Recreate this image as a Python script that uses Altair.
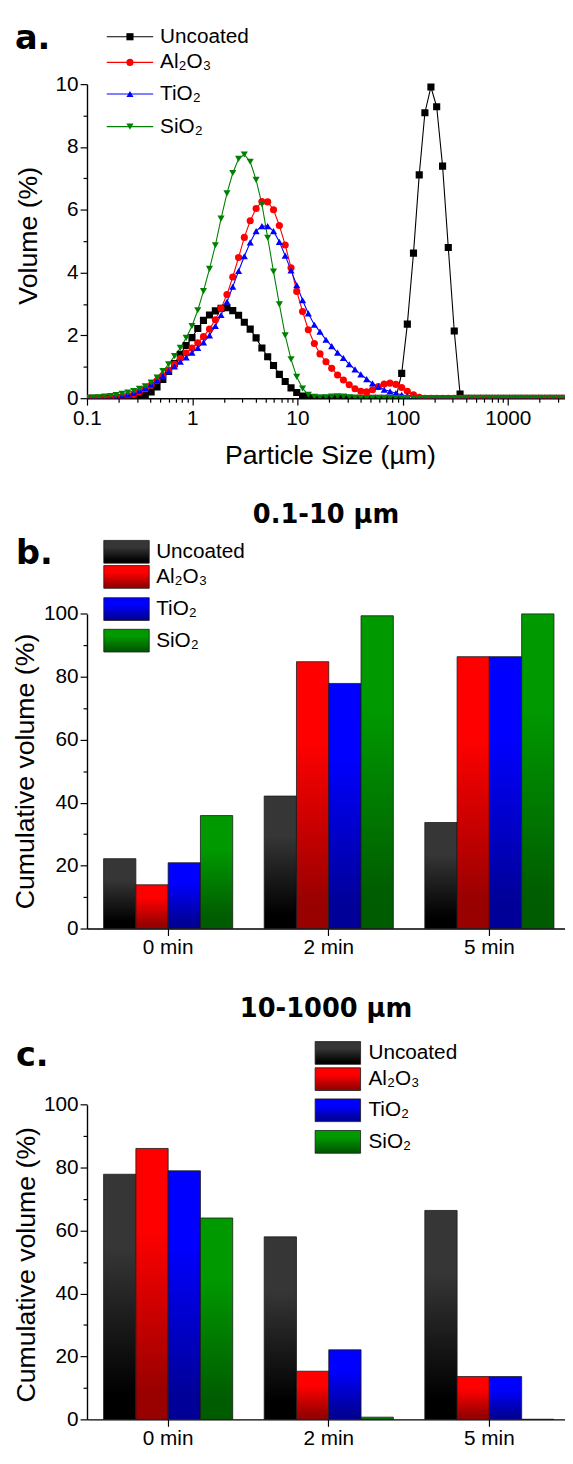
import altair as alt
import pandas as pd

# ---------------- data ----------------
SIZES = [0.100, 0.114, 0.129, 0.147, 0.167, 0.189, 0.215, 0.244, 0.278, 0.315,
         0.358, 0.407, 0.463, 0.526, 0.597, 0.679, 0.771, 0.876, 0.995, 1.13,
         1.28, 1.46, 1.66, 1.88, 2.14, 2.43, 2.76, 3.13, 3.56, 4.05,
         4.60, 5.22, 5.93, 6.74, 7.66, 8.70, 9.86, 11.2, 12.7, 14.5,
         16.4, 18.7, 21.2, 24.1, 27.4, 31.1, 35.3, 40.1, 45.6, 51.8,
         58.9, 66.9, 76.0, 86.4, 98.1, 111, 127, 144, 163, 186,
         211, 240, 272, 310, 352, 400, 454, 516, 586, 666,
         756, 859, 976, 1110, 1260, 1430, 1630, 1850, 2100, 2390,
         2710, 3080, 3500]

VOL_UNCOATED = [0, 0, 0, 0, 0, 0, 0, 0, 0, 0.03,
                0.10, 0.20, 0.36, 0.60, 0.85, 1.10, 1.40, 1.68, 1.93, 2.22,
                2.48, 2.65, 2.78, 2.86, 2.88, 2.79, 2.64, 2.42, 2.20, 1.92,
                1.60, 1.32, 1.04, 0.76, 0.53, 0.33, 0.18, 0.07, 0.02, 0,
                0, 0, 0, 0, 0, 0, 0, 0, 0, 0,
                0, 0, 0, 0, 0.79, 2.36, 4.62, 7.11, 9.09, 9.91,
                9.28, 7.39, 4.80, 2.14, 0.13, 0, 0, 0, 0, 0,
                0, 0, 0, 0, 0, 0, 0, 0, 0, 0,
                0, 0, 0]

VOL_AL2O3 = [0, 0, 0, 0, 0, 0.01, 0.03, 0.07, 0.12, 0.20,
             0.30, 0.42, 0.56, 0.72, 0.90, 1.08, 1.27, 1.44, 1.60, 1.76,
             1.96, 2.20, 2.50, 2.86, 3.30, 3.86, 4.48, 5.12, 5.65, 6.04,
             6.26, 6.25, 6.00, 5.50, 4.88, 4.15, 3.40, 2.76, 2.18, 1.74,
             1.41, 1.16, 0.95, 0.74, 0.58, 0.43, 0.30, 0.22, 0.20, 0.27,
             0.37, 0.45, 0.48, 0.44, 0.34, 0.22, 0.11, 0.03, 0, 0,
             0, 0, 0, 0, 0, 0, 0, 0, 0, 0,
             0, 0, 0, 0, 0, 0, 0, 0, 0, 0,
             0, 0, 0]

VOL_TIO2 = [0, 0, 0.01, 0.02, 0.03, 0.05, 0.08, 0.12, 0.17, 0.24,
            0.33, 0.44, 0.57, 0.71, 0.86, 1.01, 1.16, 1.30, 1.45, 1.60,
            1.78, 2.00, 2.30, 2.65, 3.07, 3.55, 4.05, 4.52, 4.96, 5.32,
            5.48, 5.48, 5.32, 4.98, 4.54, 4.07, 3.60, 3.12, 2.70, 2.34,
            2.12, 1.86, 1.66, 1.45, 1.28, 1.08, 0.92, 0.76, 0.61, 0.47,
            0.37, 0.27, 0.22, 0.16, 0.11, 0.07, 0.05, 0.03, 0.01, 0,
            0, 0, 0, 0, 0, 0, 0, 0, 0, 0,
            0, 0, 0, 0, 0, 0, 0, 0, 0, 0,
            0, 0, 0]

VOL_SIO2 = [0.01, 0.02, 0.03, 0.05, 0.07, 0.10, 0.14, 0.18, 0.23, 0.30,
            0.38, 0.50, 0.66, 0.86, 1.08, 1.34, 1.60, 1.92, 2.30, 2.80,
            3.41, 4.12, 4.87, 5.72, 6.52, 7.17, 7.62, 7.76, 7.53, 6.95,
            6.18, 5.11, 4.03, 2.99, 2.00, 1.24, 0.68, 0.31, 0.11, 0.04,
            0.02, 0.03, 0.05, 0.06, 0.05, 0.03, 0.01, 0, 0, 0,
            0, 0, 0, 0, 0, 0, 0, 0, 0, 0,
            0, 0, 0, 0, 0, 0, 0, 0, 0, 0,
            0, 0, 0, 0, 0, 0, 0, 0, 0, 0,
            0, 0, 0]

SERIES = ["Uncoated", "Al₂O₃", "TiO₂", "SiO₂"]
COLORS = ["#000000", "#ff0000", "#0000ff", "#008000"]
SHAPES = ["square", "circle", "triangle-up", "triangle-down"]
GRAD_TOP = ["#363636", "#ff0000", "#0000ff", "#009900"]
GRAD_BOT = ["#000000", "#990000", "#000099", "#005c00"]

TIMES = ["0 min", "2 min", "5 min"]
B_UNCOATED = [22.2, 42.1, 33.7]
B_AL2O3 = [13.9, 84.8, 86.4]
B_TIO2 = [20.9, 77.9, 86.4]
B_SIO2 = [35.9, 99.4, 100.0]
C_UNCOATED = [77.9, 58.0, 66.4]
C_AL2O3 = [86.1, 15.3, 13.6]
C_TIO2 = [79.0, 22.1, 13.6]
C_SIO2 = [64.0, 0.7, 0.0]

X_MAJOR = [0.1, 1, 10, 100, 1000]
X_MINOR = [0.2, 0.3, 0.4, 0.5, 0.6, 0.7, 0.8, 0.9,
           2, 3, 4, 5, 6, 7, 8, 9,
           20, 30, 40, 50, 60, 70, 80, 90,
           200, 300, 400, 500, 600, 700, 800, 900,
           2000, 3000]
YA_MAJOR = [0, 2, 4, 6, 8, 10]
YA_MINOR = [1, 3, 5, 7, 9]
YB_MAJOR = [0, 20, 40, 60, 80, 100]
YB_MINOR = [10, 30, 50, 70, 90]

# ---------------- layout constants ----------------
FONT = "Liberation Sans"
BOLD = "DejaVu Sans"
W = 484
HA, HB, HC = 386, 497, 457
GAP = 40
TICK_FS = 21
TITLE_FS = 27
LEG_FS = 21
TOP_ANCHOR = -20
BOTTOM_ANCHOR = HC + 40
SVG_H = 1448
PAD_BOTTOM = SVG_H - (HA + GAP + HB + GAP + BOTTOM_ANCHOR)

one = pd.DataFrame({"k": [0]})


def gradient(i):
    return alt.Gradient(
        gradient="linear", x1=0, x2=0, y1=0, y2=1,
        stops=[alt.GradientStop(offset=0, color=GRAD_TOP[i]),
               alt.GradientStop(offset=0.3, color=GRAD_TOP[i]),
               alt.GradientStop(offset=0.9, color=GRAD_BOT[i]),
               alt.GradientStop(offset=1, color=GRAD_BOT[i])])


def txt(text, x, y, size, font=FONT, weight="normal", align="left", baseline="middle"):
    return alt.Chart(one).mark_text(
        text=text, font=font, fontSize=size, fontWeight=weight,
        align=align, baseline=baseline, color="black"
    ).encode(x=alt.value(x), y=alt.value(y))


def anchor(x, y):
    # invisible layout anchor (fixes the outer bounds of the drawing)
    return alt.Chart(one).mark_rule(opacity=0).encode(
        x=alt.value(x), y=alt.value(y), y2=alt.value(y + 1))


# ---------------- panel a ----------------
rows = []
for name, vals in zip(SERIES, [VOL_UNCOATED, VOL_AL2O3, VOL_TIO2, VOL_SIO2]):
    for s, v in zip(SIZES, vals):
        rows.append({"size": s, "vol": v, "series": name})
dfa = pd.DataFrame(rows)

color_scale = alt.Scale(domain=SERIES, range=COLORS)
shape_scale = alt.Scale(domain=SERIES, range=SHAPES)
xs = alt.Scale(type="log", domain=[0.1, 3500], nice=False)
ys = alt.Scale(domain=[0, 10], range=[HA, 68], nice=False)

xa_axis = alt.Axis(values=X_MAJOR, orient="bottom",
                   labelExpr="datum.value < 1 ? '0.1' : format(datum.value, 'd')",
                   title="Particle Size (µm)", tickSize=7, labelPadding=3,
                   labelFlush=False, labelOverlap=False,
                   titleX=246, titleY=58, titleAlign="center", titleBaseline="middle")
ya_axis = alt.Axis(values=YA_MAJOR, orient="left", title="Volume (%)",
                   tickSize=7, labelPadding=2, titleX=-59, titleY=221,
                   titleAngle=270, titleAlign="center", titleBaseline="middle")
xa_minor = alt.Axis(values=X_MINOR, orient="bottom", labels=False, domain=False,
                    tickSize=4, title=None)
ya_minor = alt.Axis(values=YA_MINOR, orient="left", labels=False, domain=False,
                    tickSize=4, title=None)

lines = alt.Chart(dfa).mark_line(strokeWidth=1.1, clip=True).encode(
    x=alt.X("size:Q", scale=xs, axis=xa_axis),
    y=alt.Y("vol:Q", scale=ys, axis=ya_axis),
    color=alt.Color("series:N", scale=color_scale, legend=None),
)
points = alt.Chart(dfa).mark_point(filled=True, size=52, opacity=1, clip=True).encode(
    x=alt.X("size:Q", scale=xs, axis=None),
    y=alt.Y("vol:Q", scale=ys, axis=None),
    color=alt.Color("series:N", scale=color_scale, legend=None),
    shape=alt.Shape("series:N", scale=shape_scale, legend=None),
)
minor_a = alt.Chart(dfa).mark_point(opacity=0, clip=True).encode(
    x=alt.X("size:Q", scale=xs, axis=xa_minor),
    y=alt.Y("vol:Q", scale=ys, axis=ya_minor),
)

LEG_A_Y = [20, 46, 78, 111]
leg_a = []
for i, name in enumerate(SERIES):
    ry = LEG_A_Y[i]
    leg_a.append(alt.Chart(one).mark_rule(color=COLORS[i], strokeWidth=1.2).encode(
        x=alt.value(20), x2=alt.value(67), y=alt.value(ry)))
    leg_a.append(alt.Chart(one).mark_point(shape=SHAPES[i], filled=True, size=52,
                                           color=COLORS[i], opacity=1).encode(
        x=alt.value(43.5), y=alt.value(ry)))
    leg_a.append(txt(name, 74, ry, LEG_FS))

pa = alt.layer(
    lines, points, minor_a, *leg_a,
    txt("a.", -73, 32, 34, font=BOLD, weight="bold", baseline="alphabetic"),
    anchor(-80, 200), anchor(0, TOP_ANCHOR),
).resolve_axis(x="independent", y="independent").properties(width=W, height=HA)


# ---------------- panels b and c ----------------
def bar_panel(vals, H, title, label, label_y, title_y, leg_x, leg_text_x, leg_rows,
              ytitle_x, ytitle_y, extra=()):
    recs = []
    for name, vv in zip(SERIES, vals):
        for t, v in zip(TIMES, vv):
            recs.append({"time": t, "series": name, "val": v})
    df = pd.DataFrame(recs)
    bx = alt.Scale(domain=TIMES, paddingInner=0.196, paddingOuter=0.086, align=0.6)
    off = alt.Scale(domain=SERIES, paddingInner=0, paddingOuter=0)
    by = alt.Scale(domain=[0, 100], range=[H, H - 318.6], nice=False)
    x_axis = alt.Axis(title=None, orient="bottom", labelAngle=0, tickSize=7,
                      labelPadding=1, bandPosition=0.5)
    y_axis = alt.Axis(values=YB_MAJOR, orient="left", title="Cumulative volume (%)",
                      tickSize=7, labelPadding=2, titleX=ytitle_x, titleY=ytitle_y,
                      titleAngle=270, titleAlign="center", titleBaseline="middle")
    y_minor = alt.Axis(values=YB_MINOR, orient="left", labels=False, domain=False,
                       tickSize=4, title=None)
    layers = []
    for i, name in enumerate(SERIES):
        layers.append(
            alt.Chart(df).transform_filter(alt.datum.series == name).mark_bar(
                fill=gradient(i), stroke="#1a1a1a", strokeWidth=0.8
            ).encode(
                x=alt.X("time:N", scale=bx, axis=x_axis if i == 0 else None),
                xOffset=alt.XOffset("series:N", scale=off),
                y=alt.Y("val:Q", scale=by, axis=y_axis if i == 0 else None),
            )
        )
    layers.append(alt.Chart(df).mark_point(opacity=0).encode(
        x=alt.X("time:N", scale=bx, axis=None),
        y=alt.Y("val:Q", scale=by, axis=y_minor),
    ))
    for i, name in enumerate(SERIES):
        ry = leg_rows[i]
        layers.append(alt.Chart(one).mark_rect(
            fill=gradient(i), stroke="#1a1a1a", strokeWidth=0.8).encode(
            x=alt.value(leg_x), x2=alt.value(leg_x + 46),
            y=alt.value(ry - 11.5), y2=alt.value(ry + 11.5)))
        layers.append(txt(name, leg_text_x, ry, LEG_FS))
    layers.append(txt(label, -72, label_y, 34, font=BOLD, weight="bold",
                      baseline="alphabetic"))
    layers.append(txt(title, W / 2, title_y, 26, font=BOLD, weight="bold",
                      align="center"))
    layers.extend(extra)
    return alt.layer(*layers).resolve_axis(
        x="independent", y="independent").properties(width=W, height=H)


pb = bar_panel([B_UNCOATED, B_AL2O3, B_TIO2, B_SIO2], HB, "0.1-10 µm", "b.",
               127.7, 78, 17, 70, [115.5, 141, 173.5, 205.5], -62, 337.5)
pc = bar_panel([C_UNCOATED, C_AL2O3, C_TIO2, C_SIO2], HC, "10-1000 µm", "c.",
               99, 42, 231, 285, [86, 112.5, 144, 176], -61, 300,
               extra=[anchor(0, BOTTOM_ANCHOR)])

chart = alt.vconcat(pa, pb, pc, spacing=GAP, bounds="flush").properties(
    padding={"left": 0, "top": TOP_ANCHOR, "right": 0, "bottom": PAD_BOTTOM}
).configure_view(strokeWidth=0).configure_axis(
    labelFont=FONT, titleFont=FONT, labelFontSize=TICK_FS, titleFontSize=TITLE_FS,
    titleFontWeight="normal", labelColor="black", titleColor="black",
    domainColor="black", tickColor="black", domainWidth=1.4, tickWidth=1.2,
    grid=False,
)

chart.save("out.html", embed_options={"renderer": "svg", "actions": False})
